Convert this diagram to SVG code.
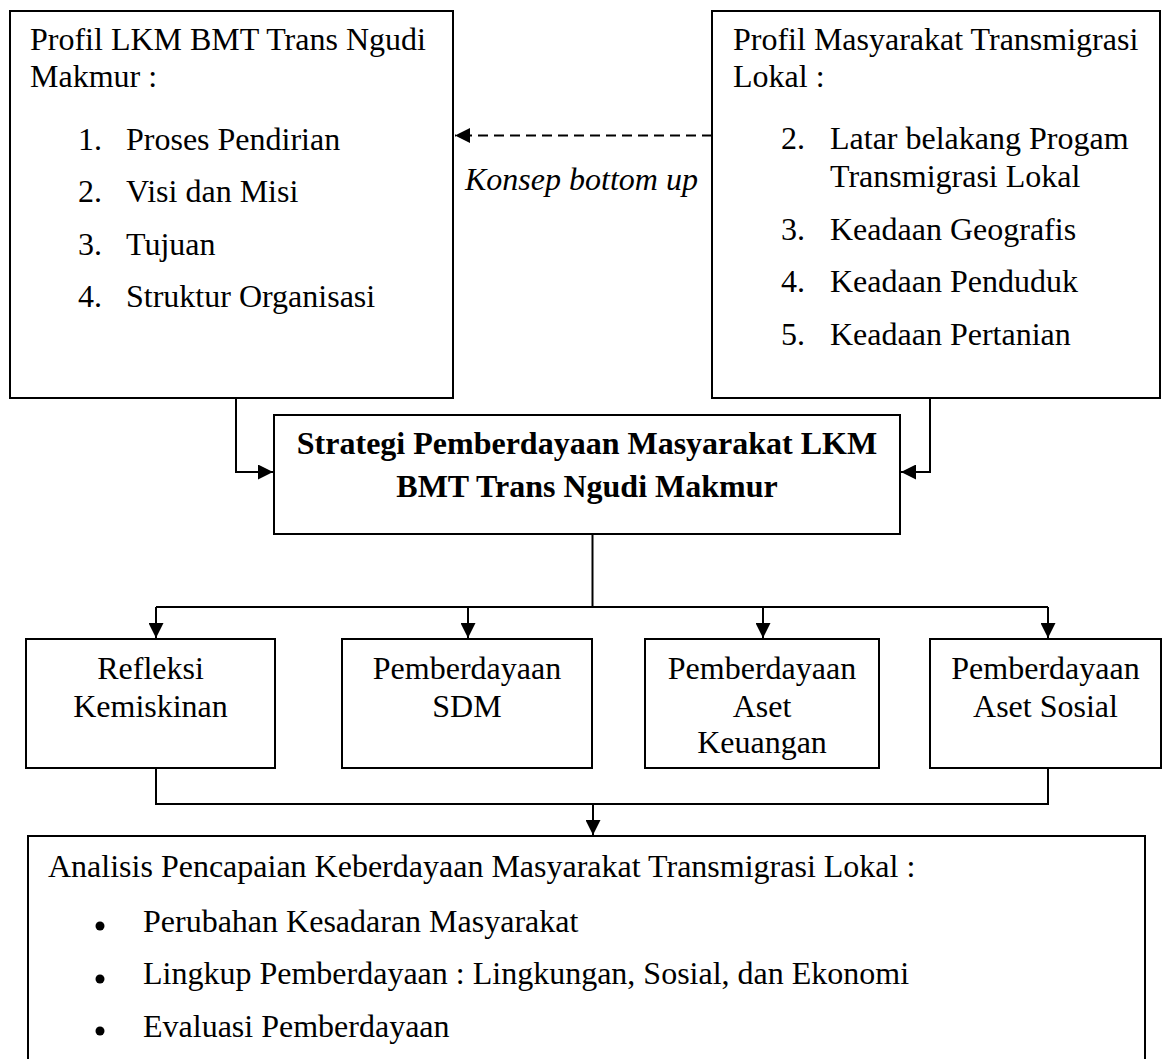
<svg xmlns="http://www.w3.org/2000/svg" width="1163" height="1059" viewBox="0 0 1163 1059">
  <style>
    .box { fill: #fff; stroke: #000; stroke-width: 2; }
    .t { font-family: "Liberation Serif", "Times New Roman", serif; font-size: 32px; fill: #000; }
    .b { font-weight: bold; }
    .i { font-style: italic; }
    .c { text-anchor: middle; }
    .ln { fill: none; stroke: #000; stroke-width: 2; }
    .dash { stroke-dasharray: 10 6; }
  </style>
  <defs>
    <marker id="arr" viewBox="0 0 15 15" refX="15" refY="7.5" markerWidth="15" markerHeight="15" markerUnits="userSpaceOnUse" orient="auto">
      <path d="M0,0 L15,7.5 L0,15 Z" fill="#000"/>
    </marker>
  </defs>
  <rect width="1163" height="1059" fill="#fff"/>

  <g id="connectors">
    <path class="ln dash" d="M712,135.5 H455" marker-end="url(#arr)"/>
    <path class="ln" d="M236,398 V472 H273" marker-end="url(#arr)"/>
    <path class="ln" d="M930,398 V472 H901" marker-end="url(#arr)"/>
    <path class="ln" d="M592.5,534 V607"/>
    <path class="ln" d="M156,607 H1048"/>
    <path class="ln" d="M156,607 V638" marker-end="url(#arr)"/>
    <path class="ln" d="M468,607 V638" marker-end="url(#arr)"/>
    <path class="ln" d="M763,607 V638" marker-end="url(#arr)"/>
    <path class="ln" d="M1048,607 V638" marker-end="url(#arr)"/>
    <path class="ln" d="M156,768 V804 H1048 V768"/>
    <path class="ln" d="M593,804 V835" marker-end="url(#arr)"/>
    <text class="t i" x="465" y="190">Konsep bottom up</text>
  </g>

  <g id="profil-lkm">
    <rect class="box" x="10" y="11" width="443" height="387"/>
    <text class="t" x="30" y="50">Profil LKM BMT Trans Ngudi</text>
    <text class="t" x="30" y="87">Makmur :</text>
    <text class="t" x="78" y="150">1.</text><text class="t" x="126" y="150">Proses Pendirian</text>
    <text class="t" x="78" y="202">2.</text><text class="t" x="126" y="202">Visi dan Misi</text>
    <text class="t" x="78" y="255">3.</text><text class="t" x="126" y="255">Tujuan</text>
    <text class="t" x="78" y="307">4.</text><text class="t" x="126" y="307">Struktur Organisasi</text>
  </g>

  <g id="profil-masyarakat">
    <rect class="box" x="712" y="11" width="448" height="387"/>
    <text class="t" x="733" y="50">Profil Masyarakat Transmigrasi</text>
    <text class="t" x="733" y="87">Lokal :</text>
    <text class="t" x="781" y="149">2.</text><text class="t" x="830" y="149">Latar belakang Progam</text>
    <text class="t" x="830" y="187">Transmigrasi Lokal</text>
    <text class="t" x="781" y="240">3.</text><text class="t" x="830" y="240">Keadaan Geografis</text>
    <text class="t" x="781" y="292">4.</text><text class="t" x="830" y="292">Keadaan Penduduk</text>
    <text class="t" x="781" y="345">5.</text><text class="t" x="830" y="345">Keadaan Pertanian</text>
  </g>

  <g id="strategi">
    <rect class="box" x="274" y="415" width="626" height="119"/>
    <text class="t b c" x="587" y="454">Strategi Pemberdayaan Masyarakat LKM</text>
    <text class="t b c" x="587" y="497">BMT Trans Ngudi Makmur</text>
  </g>

  <g id="refleksi">
    <rect class="box" x="26" y="639" width="249" height="129"/>
    <text class="t c" x="150.5" y="679">Refleksi</text>
    <text class="t c" x="150.5" y="717">Kemiskinan</text>
  </g>

  <g id="sdm">
    <rect class="box" x="342" y="639" width="250" height="129"/>
    <text class="t c" x="467" y="679">Pemberdayaan</text>
    <text class="t c" x="467" y="717">SDM</text>
  </g>

  <g id="aset-keuangan">
    <rect class="box" x="645" y="639" width="234" height="129"/>
    <text class="t c" x="762" y="679">Pemberdayaan</text>
    <text class="t c" x="762" y="717">Aset</text>
    <text class="t c" x="762" y="753">Keuangan</text>
  </g>

  <g id="aset-sosial">
    <rect class="box" x="930" y="639" width="231" height="129"/>
    <text class="t c" x="1045.5" y="679">Pemberdayaan</text>
    <text class="t c" x="1045.5" y="717">Aset Sosial</text>
  </g>

  <g id="analisis">
    <rect class="box" x="28" y="836" width="1117" height="240"/>
    <text class="t" x="48" y="877">Analisis Pencapaian Keberdayaan Masyarakat Transmigrasi Lokal :</text>
    <circle cx="100" cy="926" r="4.5" fill="#000"/>
    <text class="t" x="143" y="932">Perubahan Kesadaran Masyarakat</text>
    <circle cx="100" cy="979" r="4.5" fill="#000"/>
    <text class="t" x="143" y="984">Lingkup Pemberdayaan : Lingkungan, Sosial, dan Ekonomi</text>
    <circle cx="100" cy="1031" r="4.5" fill="#000"/>
    <text class="t" x="143" y="1037">Evaluasi Pemberdayaan</text>
  </g>
</svg>
